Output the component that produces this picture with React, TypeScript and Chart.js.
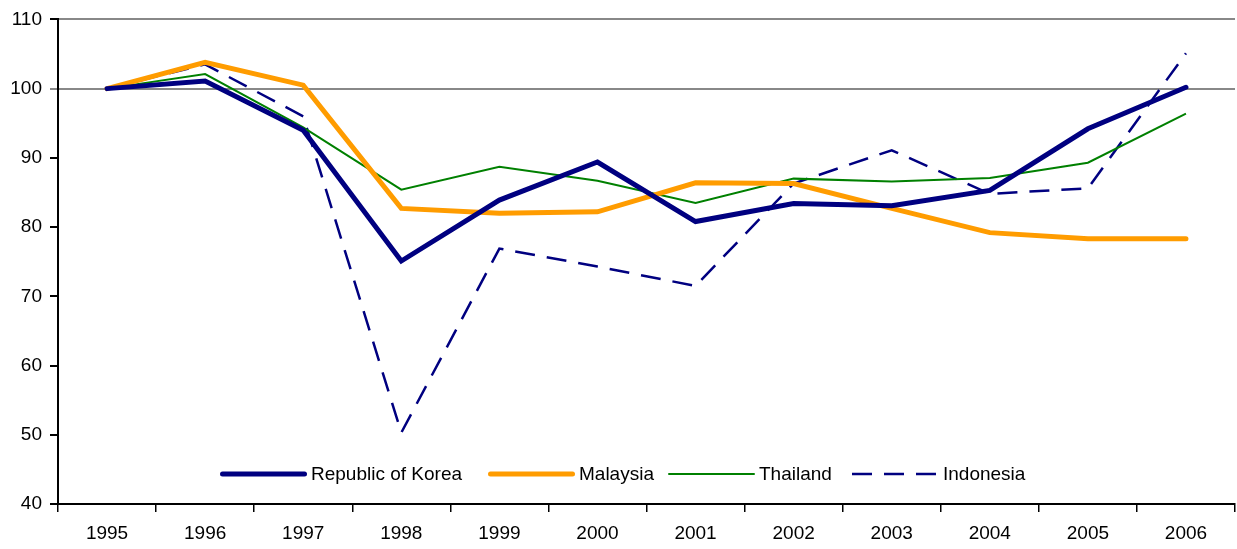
import React, { useEffect, useRef } from "react";
import { Chart, registerables } from "chart.js";

Chart.register(...registerables);

const years = ["1995", "1996", "1997", "1998", "1999", "2000", "2001", "2002", "2003", "2004", "2005", "2006"];
const korea = [100, 101.1, 94.0, 75.1, 83.9, 89.4, 80.8, 83.4, 83.1, 85.3, 94.2, 100.2];
const malaysia = [100, 103.8, 100.5, 82.7, 82.0, 82.2, 86.4, 86.3, 82.7, 79.2, 78.3, 78.3];
const thailand = [100, 102.1, 94.4, 85.4, 88.7, 86.7, 83.5, 87.0, 86.6, 87.1, 89.3, 96.4];
const indonesia = [100, 103.5, 96.0, 50.3, 76.9, 74.3, 71.5, 86.3, 91.1, 84.8, 85.6, 105.1];
const seriesNames = ["Republic of Korea", "Malaysia", "Thailand", "Indonesia"];

const FONT = '"Liberation Sans", Arial, sans-serif';
const FONT_SIZE = 19;

const innerLegend = {
  id: "innerLegend",
  afterDraw(chart: any) {
    const ctx = chart.ctx as CanvasRenderingContext2D;
    const y = chart.chartArea.bottom - 30;
    const starts = [220, 488, 668, 852];
    chart.data.datasets.forEach((ds: any, i: number) => {
      const x = starts[i];
      ctx.save();
      ctx.strokeStyle = ds.borderColor;
      ctx.lineWidth = ds.borderWidth;
      const dashed = ds.borderDash && ds.borderDash.length;
      ctx.lineCap = dashed ? "butt" : "round";
      ctx.setLineDash(dashed ? ds.borderDash : []);
      ctx.beginPath();
      const cap = dashed ? 0 : ds.borderWidth / 2;
      ctx.moveTo(x + cap, y);
      ctx.lineTo(x + 87 - cap, y);
      ctx.stroke();
      ctx.setLineDash([]);
      ctx.fillStyle = "#000";
      ctx.font = `${FONT_SIZE}px ${FONT}`;
      ctx.textBaseline = "middle";
      ctx.textAlign = "left";
      ctx.fillText(ds.label, x + 91, y + 1);
      ctx.restore();
    });
  },
};

export default function App() {
  const ref = useRef<HTMLCanvasElement | null>(null);
  useEffect(() => {
    if (!ref.current) return;
    const chart = new Chart(ref.current, {
      type: "line",
      data: {
        labels: years,
        datasets: [
          {
            label: seriesNames[0],
            data: korea,
            borderColor: "#000080",
            backgroundColor: "#000080",
            borderWidth: 5,
            borderCapStyle: "round",
            pointRadius: 0,
            tension: 0,
          },
          {
            label: seriesNames[1],
            data: malaysia,
            borderColor: "#FF9C00",
            backgroundColor: "#FF9C00",
            borderWidth: 5,
            borderCapStyle: "round",
            pointRadius: 0,
            tension: 0,
          },
          {
            label: seriesNames[2],
            data: thailand,
            borderColor: "#008000",
            backgroundColor: "#008000",
            borderWidth: 2,
            pointRadius: 0,
            tension: 0,
          },
          {
            label: seriesNames[3],
            data: indonesia,
            borderColor: "#000080",
            backgroundColor: "#000080",
            borderWidth: 2.5,
            borderDash: [20, 12],
            pointRadius: 0,
            tension: 0,
          },
        ],
      },
      options: {
        animation: false,
        responsive: true,
        maintainAspectRatio: false,
        layout: { padding: { top: 19, right: 2, left: 0, bottom: 0 } },
        plugins: {
          legend: { display: false },
          tooltip: { enabled: false },
        },
        scales: {
          x: {
            type: "category",
            offset: true,
            afterFit: (scale: any) => {
              scale.height = 45;
            },
            grid: {
              display: true,
              offset: true,
              drawOnChartArea: false,
              tickLength: 8,
              color: "#000",
              lineWidth: 1.5,
            },
            border: { display: true, color: "#000", width: 2 },
            ticks: {
              color: "#000",
              font: { family: FONT, size: FONT_SIZE },
              padding: 10,
              maxRotation: 0,
              autoSkip: false,
            },
          },
          y: {
            min: 40,
            max: 110,
            afterFit: (scale: any) => {
              scale.width = 58;
            },
            grid: {
              tickLength: 8,
              lineWidth: 2,
              color: (c: any) =>
                c.tick && (c.tick.value === 100 || c.tick.value === 110) ? "#888888" : "rgba(0,0,0,0)",
              tickColor: (c: any) => (c.tick && c.tick.value === 100 ? "#888888" : "#000"),
            },
            border: { display: true, color: "#000", width: 2 },
            ticks: {
              stepSize: 10,
              color: "#000",
              font: { family: FONT, size: FONT_SIZE },
              padding: 8,
            },
          },
        },
      },
      plugins: [innerLegend],
    });
    return () => chart.destroy();
  }, []);
  return (
    <div style={{ position: "absolute", left: 0, top: 0, width: 1237, height: 549, background: "#fff" }}>
      <canvas ref={ref} />
    </div>
  );
}
